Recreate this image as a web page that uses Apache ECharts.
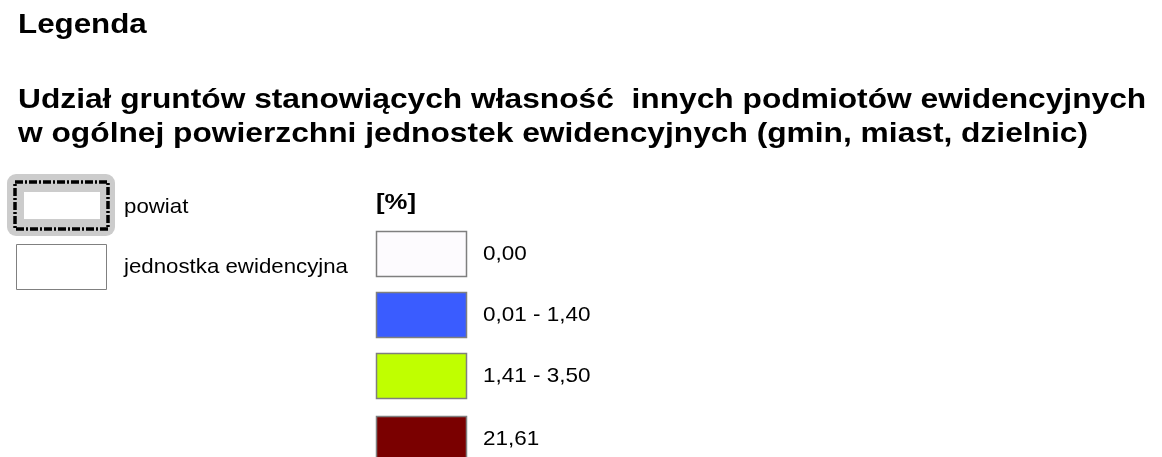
<!DOCTYPE html>
<html>
<head>
<meta charset="utf-8">
<script src="https://cdn.jsdelivr.net/npm/echarts@6/dist/echarts.min.js"></script>
<style>html,body{margin:0;padding:0;background:#fff;}#c{width:1162px;height:457px;}</style>
</head>
<body>
<div id="c"></div>
<script>
var heading = 'Legenda';
var titleLines = [
  'Udział gruntów stanowiących własność  innych podmiotów ewidencyjnych',
  'w ogólnej powierzchni jednostek ewidencyjnych (gmin, miast, dzielnic)'
];
var boundaryLabels = ['powiat', 'jednostka ewidencyjna'];
var unitLabel = '[%]';
var classLabels = ['0,00', '0,01 - 1,40', '1,41 - 3,50', '21,61'];
var classColors = ['#fdfbfe', '#3a5cff', '#c0ff00', '#7a0000'];

var FONT = '"Liberation Sans", Arial, sans-serif';
function txt(str, x, y, font, sx) {
  return {type: 'text', x: x, y: y, scaleX: sx, silent: true,
    style: {x: 0, y: 0, text: str, font: font, fill: '#000', verticalAlign: 'middle'}};
}

var chart = echarts.init(document.getElementById('c'), null, {renderer: 'canvas'});
var g = [];
var BOLD = 'bold 27px ' + FONT;
g.push(txt(heading, 18, 26, BOLD, 1.16));
titleLines.forEach(function (t, i) {
  g.push(txt(t, 18, 101 + i * 34, BOLD, 1.175));
});
// powiat symbol
g.push({type: 'rect', shape: {x: 7, y: 174, width: 108, height: 62, r: 9}, style: {fill: '#cccccc'}});
g.push({type: 'rect', shape: {x: 24, y: 192, width: 76, height: 27}, style: {fill: '#ffffff'}});
g.push({type: 'rect', shape: {x: 15, y: 182, width: 93, height: 47}, style: {fill: null, stroke: '#000', lineWidth: 3.5, lineDash: [8, 2, 2, 2]}});
// jednostka symbol
g.push({type: 'rect', shape: {x: 16.5, y: 244.5, width: 90, height: 45}, style: {fill: '#fff', stroke: '#808080', lineWidth: 1}});
var SMALL = '21px ' + FONT;
boundaryLabels.forEach(function (t, i) {
  g.push(txt(t, 124, i === 0 ? 207 : 267, SMALL, 1.06));
});
g.push(txt(unitLabel, 376, 203, 'bold 22px ' + FONT, 1.17));
var boxTops = [231, 292, 353, 416];
classLabels.forEach(function (t, i) {
  var y = boxTops[i];
  g.push({type: 'rect', shape: {x: 376.5, y: y + 0.5, width: 90, height: 45}, style: {fill: classColors[i], stroke: '#7f7f7f', lineWidth: 1.5}});
  g.push(txt(t, 483, y + 23, SMALL, 1.07));
});
chart.setOption({animation: false, graphic: {elements: g}});
</script>
</body>
</html>
